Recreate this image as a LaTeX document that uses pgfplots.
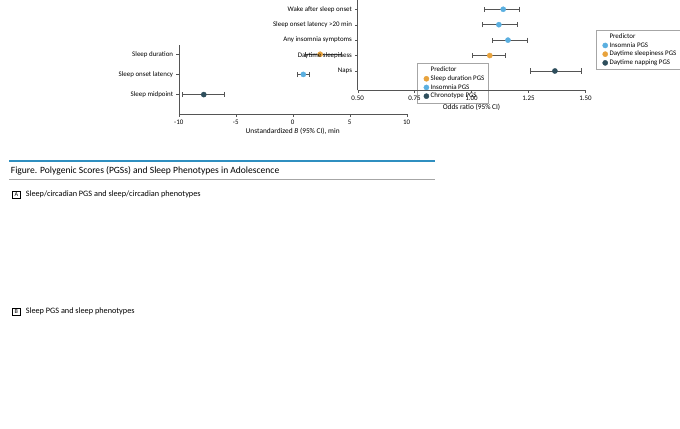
\documentclass[border=0pt]{standalone}
\usepackage{pgfplots}
\pgfplotsset{compat=1.18}
\usepackage{fontspec}
\setmainfont{Carlito}
\definecolor{cO}{HTML}{E8A33D}
\definecolor{cB}{HTML}{5AAFE0}
\definecolor{cD}{HTML}{2E4E5C}
\definecolor{bar}{HTML}{2F8FC0}
\definecolor{eb}{HTML}{555555}
\begin{document}
\begin{tikzpicture}[x=0.75pt,y=-0.75pt]
\path (0,0) rectangle (680,426);
\fill[bar] (14,13) rectangle (668,16);
\node[anchor=west,font=\fontsize{11}{13}\selectfont] at (12,29) {Figure. Polygenic Scores (PGSs) and Sleep Phenotypes in Adolescence};
\draw[gray!70,line width=0.8pt] (14,43) -- (668,43);
\node[draw,inner sep=1.5pt,minimum width=9pt,font=\fontsize{7}{8}\selectfont] at (25,66) {A};
\node[anchor=west,font=\fontsize{9.5}{11}\selectfont] at (35,66) {Sleep/circadian PGS and sleep/circadian phenotypes};
\node[draw,inner sep=1.5pt,minimum width=9pt,font=\fontsize{7}{8}\selectfont] at (25,246) {B};
\node[anchor=west,font=\fontsize{9.5}{11}\selectfont] at (35,246) {Sleep PGS and sleep phenotypes};
\pgfplotsset{common/.style={
  scale only axis, anchor=south west,
  axis x line*=bottom, axis y line*=left, axis line style={-,eb},
  tick style={eb}, tick align=outside, major tick length=3pt,
  font=\fontsize{8}{9.5}\selectfont, ticklabel style={font=\fontsize{8}{9.5}\selectfont},
  /pgf/number format/assume math mode=true,
  label style={font=\fontsize{8.5}{10}\selectfont},
  xlabel style={yshift=3pt},
  legend cell align=left,
  legend style={draw=gray!70, font=\fontsize{8}{9.5}\selectfont, anchor=west, row sep=-1pt, inner sep=2pt},
  every axis plot/.append style={only marks, mark=*, mark size=3pt,
    /pgfplots/error bars/x dir=both, /pgfplots/error bars/x explicit,
    /pgfplots/error bars/error bar style={eb,line width=0.7pt},
    /pgfplots/error bars/error mark options={eb,rotate=90,mark size=3pt,line width=0.7pt}},
}}
\begin{axis}[common, at={(157,186)}, width=262.5pt, height=79.5pt,
  xmin=-10, xmax=10, xtick={-10,-5,0,5,10}, ymin=0.03, ymax=3.45,
  ytick={1,2,3}, yticklabels={Sleep midpoint,Sleep onset latency,Sleep duration},
  xlabel={Unstandardized \textit{B} (95\% CI), min},
  legend style={at={(1.046,0.45)}}]
\addlegendimage{empty legend}\addlegendentry{Predictor}
\addplot[cO] coordinates {(2.41,3) += (1.85,0) -= (1.29,0)};
\addlegendentry{Sleep duration PGS}
\addplot[cB] coordinates {(0.93,2) += (0.51,0) -= (0.53,0)};
\addlegendentry{Insomnia PGS}
\addplot[cD] coordinates {(-7.81,1) += (1.78,0) -= (1.87,0)};
\addlegendentry{Chronotype PGS}
\end{axis}
\begin{axis}[common, at={(157,397)}, width=262.5pt, height=104pt,
  xmin=0.5, xmax=1.5, xtick={0.5,0.75,1,1.25,1.5},
  xticklabel style={/pgf/number format/.cd,fixed,fixed zerofill,precision=2},
  ymin=-0.26, ymax=5.59,
  ytick={1,2,3,4,5}, yticklabels={Naps,Daytime sleepiness,Any insomnia symptoms,Sleep onset latency >20 min,Wake after sleep onset},
  xlabel={Odds ratio (95\% CI)},
  legend style={at={(1.046,0.45)}}]
\addlegendimage{empty legend}\addlegendentry{Predictor}
\addplot[cB] coordinates {(1.139,5) += (0.069,0) -= (0.081,0)
  (1.120,4) += (0.081,0) -= (0.071,0)
  (1.160,3) += (0.086,0) -= (0.071,0)};
\addlegendentry{Insomnia PGS}
\addplot[cO] coordinates {(1.080,2) += (0.068,0) -= (0.076,0)};
\addlegendentry{Daytime sleepiness PGS}
\addplot[cD] coordinates {(1.366,1) += (0.114,0) -= (0.106,0)};
\addlegendentry{Daytime napping PGS}
\end{axis}
\end{tikzpicture}
\end{document}
